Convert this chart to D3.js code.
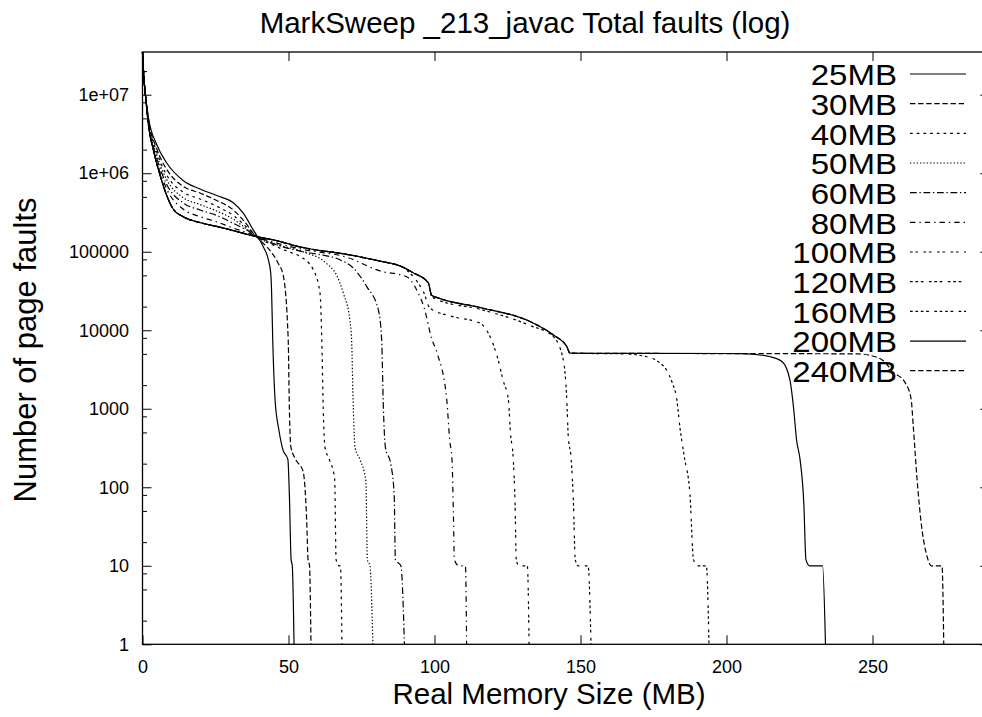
<!DOCTYPE html>
<html>
<head>
<meta charset="UTF-8">
<title>MarkSweep _213_javac Total faults (log)</title>
<script src="https://d3js.org/d3.v7.min.js"></script>
<style>
  body { margin: 0; background: #fff; }
  text { font-family: "Liberation Sans", Arial, sans-serif; fill: #000; }
  .curve { fill: none; stroke: #000; stroke-width: 1.2px; }
  .axis path { display: none; }
  .axis line { stroke: #000; stroke-width: 1px; }
</style>
</head>
<body>
<div id="chart"></div>
<script>
// [real memory MB, total page faults]
const bigHeaps = [[0,3.5e7],[0.5,1.6e7],[1,1e7],[2,4.2e6],[3.7,2e6],[4.9,1.32e6],[6,9.5e5],[8.3,5.2e5],
  [10.5,3.5e5],[13.9,2.8e5],[19.7,2.35e5],[25.4,2.1e5],[31.1,1.86e5],[37,1.62e5],[45,1.41e5],[54,1.15e5],
  [71,9.1e4],[81.3,7.6e4],[88.2,6.6e4],[92.7,5.4e4],[97.9,4e4],[99,2.8e4],[101,2.6e4],[115.6,1.95e4],
  [132.7,1.29e4],[140.7,8700],[145.3,6200],[146.4,5100]];

const mb25 = [[0,3.5e7],[0.5,1.6e7],[1,1e7],[2,5.2e6],[4.9,2.3e6],[8.3,1.35e6],[13.9,8.1e5],[19.7,6.3e5],
  [25.4,5.2e5],[31.1,4.2e5],[34.5,3.1e5],[37.9,1.9e5],[41.4,1.15e5],[43.1,7.9e4],[43.9,5.4e4],[44.2,3.2e4],
  [44.6,7600],[45.4,1300],[46.7,540],[48.1,300],[49.8,225],[50.3,80],[50.9,12],[51.3,10],[51.9,1]];
const mb30 = [[0,3.5e7],[0.5,1.6e7],[1,1e7],[2,5e6],[4.9,2.04e6],[8.3,1.12e6],[13.9,6.8e5],[19.7,5.6e5],
  [25.4,4.5e5],[31.1,3.4e5],[35,2.4e5],[38,1.7e5],[41,1.32e5],[44,1e5],[46.5,7.1e4],[48.2,5e4],
  [49.9,7600],[50.3,1000],[50.8,330],[52.5,225],[55,160],[56.2,40],[56.7,12],[57.2,10],[57.7,1]];
const mb40 = [[0,3.5e7],[0.5,1.6e7],[1,1e7],[2,4.8e6],[4.9,1.86e6],[8.3,9.5e5],[13.9,5.75e5],[19.7,4.7e5],
  [25.4,3.8e5],[31.1,2.9e5],[36,2e5],[40,1.48e5],[45,1.2e5],[50,1e5],[54,8.7e4],[58.5,5.9e4],[60.8,2.95e4],
  [61.4,7600],[61.9,1000],[62.5,320],[64,225],[65.8,130],[66.3,12],[67.3,10],[67.8,10],[68.3,1]];
const mb50 = [[0,3.5e7],[0.5,1.6e7],[1,1e7],[2,4.6e6],[4.9,1.7e6],[8.3,8.3e5],[13.9,4.9e5],[19.7,4e5],
  [25.4,3.3e5],[31.1,2.6e5],[36,1.9e5],[40,1.48e5],[45,1.26e5],[55,1e5],[63,7.1e4],[66.5,5e4],[68.8,2.95e4],
  [71,1.35e4],[71.6,7600],[72.2,1000],[72.8,320],[74.5,225],[76.5,120],[77,12],[77.9,10],[78.9,1]];
const mb60 = [[0,3.5e7],[0.5,1.6e7],[1,1e7],[2,4.5e6],[4.9,1.55e6],[8.3,7.2e5],[13.9,4.2e5],[19.7,3.4e5],
  [25.4,2.9e5],[31.1,2.3e5],[36,1.86e5],[40,1.5e5],[45,1.26e5],[55,1e5],[60,9.3e4],[67.6,7.9e4],[72,6.3e4],
  [76.8,3.6e4],[80.8,1.8e4],[81.9,7600],[82.5,1000],[83.2,320],[85,200],[86.2,80],[86.6,12],[88.5,10],[89.7,1]];
const mb80 = [[0,3.5e7],[0.5,1.6e7],[1,1e7],[2,4.4e6],[4.9,1.41e6],[8.3,6.3e5],[13.9,3.5e5],[19.7,2.8e5],
  [25.4,2.4e5],[31.1,2e5],[36,1.74e5],[40,1.5e5],[45,1.32e5],[55,1.07e5],[70,8.5e4],[81.3,5.7e4],[90.5,4.8e4],
  [94,3.2e4],[96.5,1.9e4],[99,7900],[101,5000],[104.2,1300],[105.2,400],[106,225],[106.5,40],[106.8,12],
  [108.3,10],[110.6,10],[111,1]];
const tail100 = [[90.5,5.8e4],[94,4.2e4],[96.2,3.1e4],[98.5,1.9e4],[106,1.5e4],[115.6,1.23e4],[119,8300],
  [121.8,4200],[123.5,2300],[125.3,1300],[126,500],[127,220],[127.6,60],[128,12],[128.9,10],[131.8,10],[132.4,1]];
const tail120 = [[99,2.7e4],[101,2.45e4],[115.6,1.85e4],[132.7,1.15e4],[140.7,8300],[144.1,4200],[145.3,1300],
  [145.8,450],[146.8,230],[147.6,60],[148.2,12],[149.2,10],[152.6,10],[153.6,1]];
const tail160 = [[165,5000],[172.7,4600],[177,3900],[179.5,3100],[181.5,2100],[183,1300],[184,600],[185.5,250],
  [187.5,80],[188.7,12],[190,10],[193.1,10],[194,1]];
const tail200 = [[205,5050],[215,4600],[219,4000],[221.7,2350],[223,1000],[224,400],[225.2,225],[226.5,60],
  [227.2,12],[228.5,10],[232.9,10],[233.9,1]];
const tail240 = [[245,5000],[250,4700],[254,4000],[257,2950],[261,2200],[263.2,1350],[264,575],[265.2,135],
  [266.5,40],[269,12],[270.1,10],[273.8,10],[274.4,1]];

const labels = ["25MB","30MB","40MB","50MB","60MB","80MB","100MB","120MB","160MB","200MB","240MB"];
const xTicks = [0, 50, 100, 150, 200, 250];
const yTicks = [1, 10, 100, 1000, 1e4, 1e5, 1e6, 1e7];
const yTickLabels = ["1","10","100","1000","10000","100000","1e+06","1e+07"];

// gnuplot postscript dash types
const dashes = [null, "5.4,2.7", "2.7,4", "1.35,2", "6.75,2.7,1.35,2.7", "5.4,4,1.35,4",
  "2.7,2.7,2.7,5.4", "2.7,2.7,2.7,2.7,2.7,5.4", "2.7,2.7,2.7,2.7,2.7,2.7,2.7,5.4", null, "5.4,2.7"];

const curves = [mb25, mb30, mb40, mb50, mb60, mb80,
  bigHeaps.filter(d => d[0] <= 88.2).concat(tail100),
  bigHeaps.filter(d => d[0] <= 97.9).concat(tail120),
  bigHeaps.concat(tail160),
  bigHeaps.concat(tail200),
  bigHeaps.concat(tail240)];

const W = 982, H = 717;
const pLeft = 142.5, pRight = 989.3, pTop = 52, pBottom = 644.3;

const svg = d3.select("#chart").append("svg")
  .attr("width", W).attr("height", H);

const x = d3.scaleLinear().domain([0, 290]).range([pLeft, pRight]);
const y = d3.scaleLog().domain([1, 3.5e7]).range([pBottom, pTop]);

const minorY = [];
yTicks.forEach(t => [2, 5, 8].forEach(m => { if (t * m < 3.5e7) minorY.push(t * m); }));

// frame
svg.append("rect")
  .attr("x", pLeft).attr("y", pTop)
  .attr("width", pRight - pLeft).attr("height", pBottom - pTop)
  .attr("fill", "none").attr("stroke", "#000").attr("stroke-width", 1.3);

svg.append("g").attr("class", "axis")
  .attr("transform", `translate(0,${pBottom})`)
  .call(d3.axisBottom(x).tickValues(xTicks).tickSizeInner(-9).tickSizeOuter(0).tickPadding(16))
  .selectAll("text").style("font-size", "18px");

svg.append("g").attr("class", "axis")
  .attr("transform", `translate(0,${pTop})`)
  .call(d3.axisTop(x).tickValues(xTicks).tickSizeInner(-9).tickSizeOuter(0).tickFormat(""));

svg.append("g").attr("class", "axis")
  .attr("transform", `translate(${pLeft},0)`)
  .call(d3.axisLeft(y).tickValues(yTicks).tickSizeInner(-9).tickSizeOuter(0).tickPadding(13.5)
    .tickFormat((d, i) => yTickLabels[i]))
  .selectAll("text").style("font-size", "18px");

svg.append("g").attr("class", "axis")
  .attr("transform", `translate(${pLeft},0)`)
  .call(d3.axisLeft(y).tickValues(minorY).tickSizeInner(-4.5).tickSizeOuter(0).tickFormat(""));

svg.append("g").attr("class", "axis")
  .attr("transform", `translate(${pRight},0)`)
  .call(d3.axisRight(y).tickValues(yTicks).tickSizeInner(-9).tickSizeOuter(0).tickFormat(""));

svg.append("g").attr("class", "axis")
  .attr("transform", `translate(${pRight},0)`)
  .call(d3.axisRight(y).tickValues(minorY).tickSizeInner(-4.5).tickSizeOuter(0).tickFormat(""));

const line = d3.line()
  .x(d => x(d[0]))
  .y(d => y(d[1]))
  .curve(d3.curveMonotoneX);

curves.forEach((pts, i) => {
  svg.append("path")
    .datum(pts)
    .attr("class", "curve")
    .attr("stroke-dasharray", dashes[i])
    .attr("d", line);
});

// legend (glyphs in the original are a bit wider than Liberation Sans)
const legend = svg.append("g");
labels.forEach((lab, i) => {
  const cy = 75 + i * 29.67;
  legend.append("text")
    .attr("transform", `translate(897,${cy + 10.3}) scale(1.14,1)`)
    .attr("text-anchor", "end")
    .style("font-size", "29px")
    .text(lab);
  legend.append("line")
    .attr("x1", 910).attr("x2", 966)
    .attr("y1", cy - 1).attr("y2", cy - 1)
    .attr("stroke", "#000").attr("stroke-width", 1.2)
    .attr("stroke-dasharray", dashes[i]);
});

svg.append("text")
  .attr("x", 525).attr("y", 33)
  .attr("text-anchor", "middle")
  .style("font-size", "29.5px")
  .text("MarkSweep _213_javac Total faults (log)");

svg.append("text")
  .attr("x", 549).attr("y", 704)
  .attr("text-anchor", "middle")
  .style("font-size", "29.5px")
  .text("Real Memory Size (MB)");

svg.append("text")
  .attr("transform", "translate(36,350) rotate(-90)")
  .attr("text-anchor", "middle")
  .style("font-size", "31px")
  .text("Number of page faults");
</script>
</body>
</html>
